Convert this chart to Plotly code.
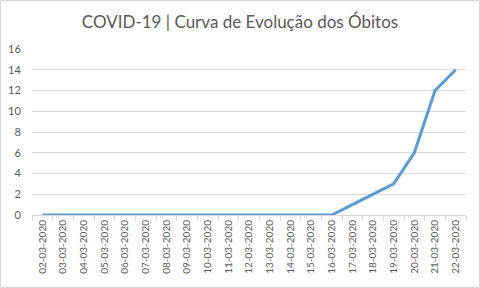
import plotly.graph_objects as go

dates = ["02-03-2020","03-03-2020","04-03-2020","05-03-2020","06-03-2020","07-03-2020",
         "08-03-2020","09-03-2020","10-03-2020","11-03-2020","12-03-2020","13-03-2020",
         "14-03-2020","15-03-2020","16-03-2020","17-03-2020","18-03-2020","19-03-2020",
         "20-03-2020","21-03-2020","22-03-2020"]
obitos = [0,0,0,0,0,0,0,0,0,0,0,0,0,0,0,1,2,3,6,12,14]
y_ticks = [0,2,4,6,8,10,12,14,16]

W, H = 480, 288
ml, mr, mt, mb = 32, 14, 49, 73
pw, ph = W - ml - mr, H - mt - mb

fig = go.Figure(go.Scatter(x=dates, y=obitos, mode="lines",
                           line=dict(color="#5b9bd5", width=3), hoverinfo="x+y"))

fig.update_layout(
    width=W, height=H,
    margin=dict(l=ml, r=mr, t=mt, b=mb, autoexpand=False),
    paper_bgcolor="white", plot_bgcolor="white",
    showlegend=False,
    title=dict(text="COVID-19 | Curva de Evolução dos Óbitos",
               font=dict(family="Lato, Open Sans, sans-serif", size=17, color="#595959"),
               x=0.5, xanchor="center", y=1 - 22 / H, yanchor="middle"),
    font=dict(family="Lato, Open Sans, sans-serif", size=11, color="#595959"),
    xaxis=dict(type="category", tickson="boundaries", ticks="outside", ticklen=5,
               tickcolor="#d9d9d9", showline=True, linecolor="#d9d9d9", linewidth=1,
               showgrid=False, tickangle=-90, automargin=False,
               range=[-0.5, len(dates) - 0.5],
               tickfont=dict(size=10, color="#595959")),
    yaxis=dict(range=[0, 16], tickvals=y_ticks, showgrid=True, gridcolor="#d9d9d9",
               gridwidth=1, zeroline=False, showline=False, ticks="outside", ticklen=8,
               tickcolor="rgba(0,0,0,0)", automargin=False,
               tickfont=dict(size=11, color="#595959")),
    shapes=[dict(type="rect", xref="paper", yref="paper",
                 x0=(0.5 - ml) / pw, x1=(W - 0.5 - ml) / pw,
                 y0=-(mb - 0.5) / ph, y1=(H - 0.5 - mb) / ph,
                 line=dict(color="#d9d9d9", width=1), fillcolor="rgba(0,0,0,0)")],
)

fig.write_html("out.html")
